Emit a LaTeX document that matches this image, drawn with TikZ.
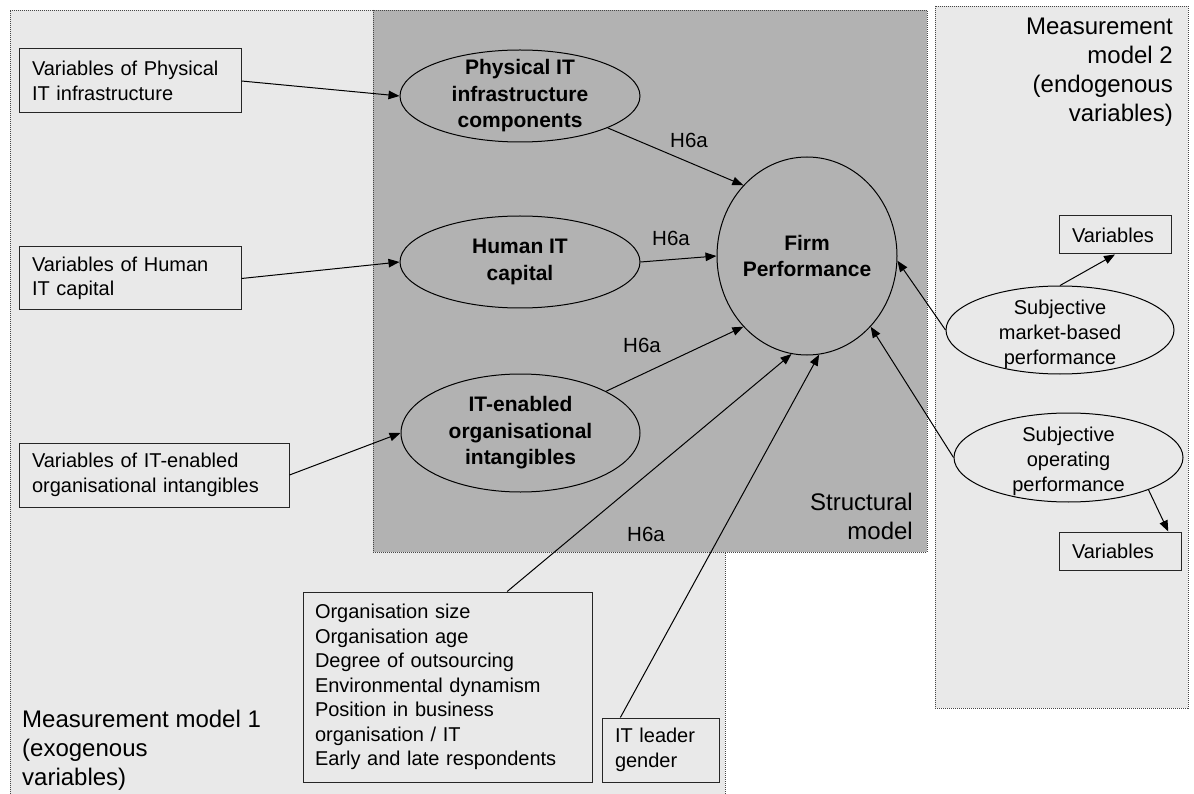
\documentclass[tikz,border=0pt]{standalone}
\usepackage{fontspec}
\setmainfont{Liberation Sans}
\usetikzlibrary{shapes.geometric,arrows.meta}
\definecolor{mmfill}{RGB}{233,233,233}
\definecolor{smfill}{RGB}{178,178,178}
\definecolor{regionedge}{RGB}{70,70,70}
\begin{document}
\begin{tikzpicture}[x=1pt,y=-1pt,
  region/.style={draw=regionedge, line width=0.9pt, dash pattern=on 1pt off 1pt},
  varbox/.style={rectangle, draw=black!85, line width=1pt, inner sep=0pt, inner xsep=13pt,
                 align=left, font=\fontsize{20}{24.5}\selectfont},
  latent/.style={ellipse, draw=black, line width=1pt, inner sep=0pt},
  boldtxt/.style={inner sep=0pt, align=center, font=\fontsize{21}{26.5}\selectfont\bfseries},
  plaintxt/.style={inner sep=0pt, align=center, yshift=-4pt, font=\fontsize{20}{25}\selectfont},
  conn/.style={line width=1pt, -{Triangle[length=11pt,width=8.5pt]}},
  hyp/.style={inner sep=0pt, font=\fontsize{20.5}{24}\selectfont},
  biglabel/.style={inner sep=0pt, font=\fontsize{24}{29}\selectfont}
]
\useasboundingbox (0,0) rectangle (1194,794);

% measurement model 1 (open at the bottom)
\fill[mmfill] (10,10) rectangle (725,794);
\draw[region] (10,794) -- (10,10) -- (725,10) -- (725,794);
% structural model
\filldraw[region, fill=smfill] (373,10) rectangle (927,552);
% measurement model 2
\filldraw[region, fill=mmfill] (935,6) rectangle (1188,708);

% region titles
\node[biglabel, align=left, anchor=north west] (mmone) at (22,709.5)
  {Measurement model 1\\(exogenous\\variables)};
\node[biglabel, align=right, anchor=south east] (structlbl) at (913,539.5)
  {Structural\\model};
\node[biglabel, align=right, anchor=north east] (mmtwo) at (1173,17.5)
  {Measurement\\model 2\\(endogenous\\variables)};

% indicator boxes of the exogenous constructs
\node[varbox, text width=196pt, minimum height=64pt] (vphys) at (130,81)
  {Variables of Physical\\IT infrastructure};
\node[varbox, text width=196pt, minimum height=63pt] (vhum) at (130,278.5)
  {Variables of Human\\IT capital};
\node[varbox, text width=244pt, minimum height=64pt] (vite) at (154,475)
  {Variables of IT-enabled\\organisational intangibles};

% control variables
\node[varbox, inner xsep=12pt, text width=265pt, minimum height=190pt] (ctrl) at (447.5,687)
  {Organisation size\\Organisation age\\Degree of outsourcing\\Environmental dynamism\\Position in business\\organisation / IT\\Early and late respondents};
\node[varbox, text width=91pt, minimum height=64pt] (itl) at (660.5,750)
  {IT leader\\gender};

% latent constructs
\node[latent, minimum width=240pt, minimum height=92pt,
      label={[boldtxt]center:Physical IT\\infrastructure\\components}] (phys) at (520,96) {};
\node[latent, minimum width=240pt, minimum height=92pt,
      label={[boldtxt]center:Human IT\\capital}] (human) at (520,262) {};
\node[latent, minimum width=239pt, minimum height=118pt,
      label={[boldtxt]center:IT-enabled\\organisational\\intangibles}] (ite) at (520.5,433) {};
\node[latent, minimum width=180pt, minimum height=198pt,
      label={[boldtxt]center:Firm\\Performance}] (firm) at (807,256) {};

% endogenous measurement
\node[latent, minimum width=228pt, minimum height=88pt,
      label={[plaintxt]center:Subjective\\market-based\\performance}] (sm) at (1060,330) {};
\node[latent, minimum width=229pt, minimum height=89pt,
      label={[plaintxt]center:Subjective\\operating\\performance}] (so) at (1068.5,457.5) {};
\node[varbox, text width=86pt, minimum height=38pt] (var1) at (1115,235) {Variables};
\node[varbox, text width=96pt, minimum height=38pt] (var2) at (1120,551) {Variables};

% connectors
\draw[conn] (vphys.east) -- (phys.west);
\draw[conn] (vhum.east) -- (human.west);
\draw[conn] (vite.east) -- (ite.west);
\draw[conn] (phys.340) -- (firm.132);
\draw[conn] (human.east) -- (firm.180);
\draw[conn] (ite.26) -- (firm.228);
\draw[conn] (ctrl.58.8) -- (firm.261);
\draw[conn] (itl.141.7) -- (firm.277);
\draw[conn] (sm.west) -- (firm.357);
\draw[conn] (sm.north) -- (var1.south);
\draw[conn] (so.west) -- (firm.312);
\draw[conn] (so.338.7) -- (var2.22.9);

% hypothesis labels
\node[hyp] (h1) at (689,140) {H6a};
\node[hyp] (h2) at (671,238) {H6a};
\node[hyp] (h3) at (642,345) {H6a};
\node[hyp] (h4) at (646,534) {H6a};
\end{tikzpicture}
\end{document}
